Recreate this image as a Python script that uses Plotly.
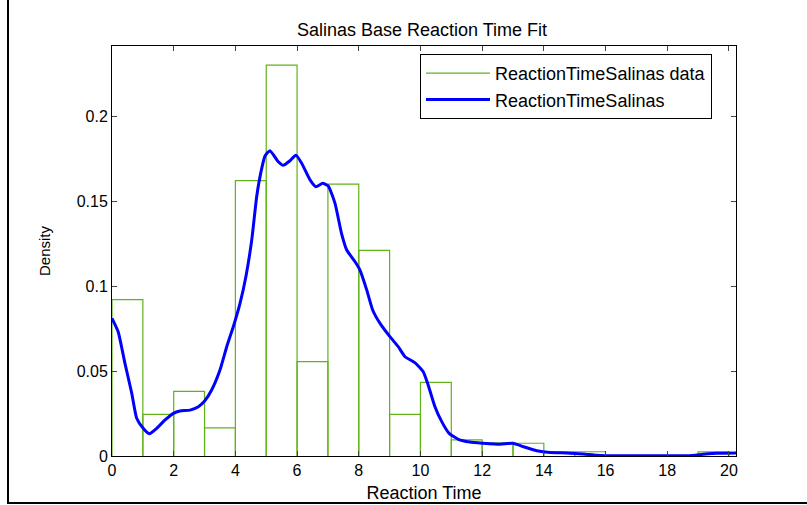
import plotly.graph_objects as go

# ---- data ----
bin_edges = list(range(0, 21))
bin_heights = [0.092, 0.0245, 0.038, 0.0165, 0.162, 0.230, 0.0555, 0.160, 0.121, 0.0245,
               0.0433, 0.0095, 0.0078, 0.0075, 0.0025, 0.0025, 0.0, 0.0, 0.0, 0.0024]

fit_x = [0.0, 0.2, 0.42, 0.64, 0.8, 1.01, 1.21, 1.45, 1.72, 1.99, 2.2, 2.53, 2.8, 3.01, 3.23,
         3.5, 3.72, 3.95, 4.15, 4.34, 4.53, 4.69, 4.82, 4.96, 5.12, 5.39, 5.55, 5.77, 5.96,
         6.15, 6.42, 6.61, 6.83, 7.01, 7.23, 7.44, 7.61, 7.88, 8.04, 8.26, 8.45, 8.69, 9.01,
         9.28, 9.5, 9.82, 10.09, 10.25, 10.47, 10.69, 10.93, 11.23, 11.6, 12.04, 12.58, 13.0,
         13.33, 13.77, 14.2, 14.74, 15.28, 15.71, 16.03, 17.0, 18.0, 18.7, 19.17, 19.6, 20.25]
fit_y = [0.081, 0.0731, 0.0545, 0.0369, 0.0222, 0.0163, 0.0131, 0.0163, 0.0212, 0.0251, 0.0265,
         0.027, 0.029, 0.0325, 0.0388, 0.0506, 0.0643, 0.0771, 0.0898, 0.1055, 0.127, 0.1525,
         0.1663, 0.1765, 0.1796, 0.1731, 0.171, 0.1737, 0.177, 0.1722, 0.1624, 0.1584, 0.1604,
         0.1588, 0.1486, 0.131, 0.1212, 0.1143, 0.1094, 0.0976, 0.0859, 0.078, 0.0702, 0.0643,
         0.0584, 0.0549, 0.0496, 0.0418, 0.029, 0.0202, 0.0133, 0.0098, 0.0082, 0.0075, 0.0069,
         0.0075, 0.0055, 0.0031, 0.002, 0.0018, 0.0012, 0.0004, 0.0002, 0.0002, 0.0002, 0.0002,
         0.001, 0.0016, 0.0018]

x_ticks = list(range(0, 21, 2))
y_ticks = [0, 0.05, 0.1, 0.15, 0.2]
y_tick_text = ["0", "0.05", "0.1", "0.15", "0.2"]

title_text = "Salinas Base Reaction Time Fit"
x_label = "Reaction Time"
y_label = "Density"
hist_name = "ReactionTimeSalinas data"
fit_name = "ReactionTimeSalinas"

# build histogram outline path from bin data
hx, hy = [], []
for i, h in enumerate(bin_heights):
    if h <= 0:
        continue
    a, b = bin_edges[i], bin_edges[i + 1]
    hx += [a, a, b, b, None]
    hy += [0, h, h, 0, None]

FONT = "Liberation Sans, Arial, sans-serif"
GREEN = "#62b21a"

fig = go.Figure()
fig.add_trace(go.Scatter(x=hx, y=hy, mode="lines", name=hist_name,
                         line=dict(color=GREEN, width=1.2)))
fig.add_trace(go.Scatter(x=fit_x, y=fit_y, mode="lines", name=fit_name,
                         line=dict(color="#0000ff", width=3, shape="spline", smoothing=0.5)))

W, H = 807, 505
L, R, T, B = 112, 736, 46, 456
pw, ph = R - L, B - T

def px_x(p):
    return (p - L) / pw

def px_y(p):
    return (B - p) / ph

fig.update_layout(
    width=W, height=H,
    margin=dict(l=L, r=W - R, t=T, b=H - B, pad=0, autoexpand=False),
    paper_bgcolor="white", plot_bgcolor="white",
    font=dict(family=FONT, size=16, color="black"),
    title=dict(text=title_text, x=px_x(422), xanchor="center", xref="paper",
               y=1 - 30 / H, yanchor="middle", font=dict(size=18)),
    showlegend=True,
    legend=dict(x=px_x(420), y=px_y(54), xanchor="left", yanchor="top",
                bordercolor="black", borderwidth=1, bgcolor="white",
                font=dict(size=18), itemwidth=64, tracegroupgap=0),
    xaxis=dict(range=[0, 20.23], tickvals=x_ticks, ticks="inside", ticklen=5,
               showline=True, linecolor="black", linewidth=1, mirror="ticks",
               showgrid=False, zeroline=False, automargin=False,
               title=dict(text=x_label, font=dict(size=18), standoff=8),
               tickfont=dict(size=16)),
    yaxis=dict(range=[0, 0.2412], tickvals=y_ticks, ticktext=y_tick_text,
               ticks="inside", ticklen=5,
               showline=True, linecolor="black", linewidth=1, mirror="ticks",
               showgrid=False, zeroline=False, automargin=False,
               title=dict(text=y_label, font=dict(size=15), standoff=22),
               tickfont=dict(size=16)),
    shapes=[
        dict(type="line", xref="paper", yref="paper",
             x0=px_x(8), x1=px_x(8), y0=px_y(0), y1=px_y(504),
             line=dict(color="black", width=2)),
        dict(type="line", xref="paper", yref="paper",
             x0=px_x(8), x1=px_x(807), y0=px_y(503), y1=px_y(503),
             line=dict(color="black", width=2)),
    ],
)

fig.write_html("out.html")
